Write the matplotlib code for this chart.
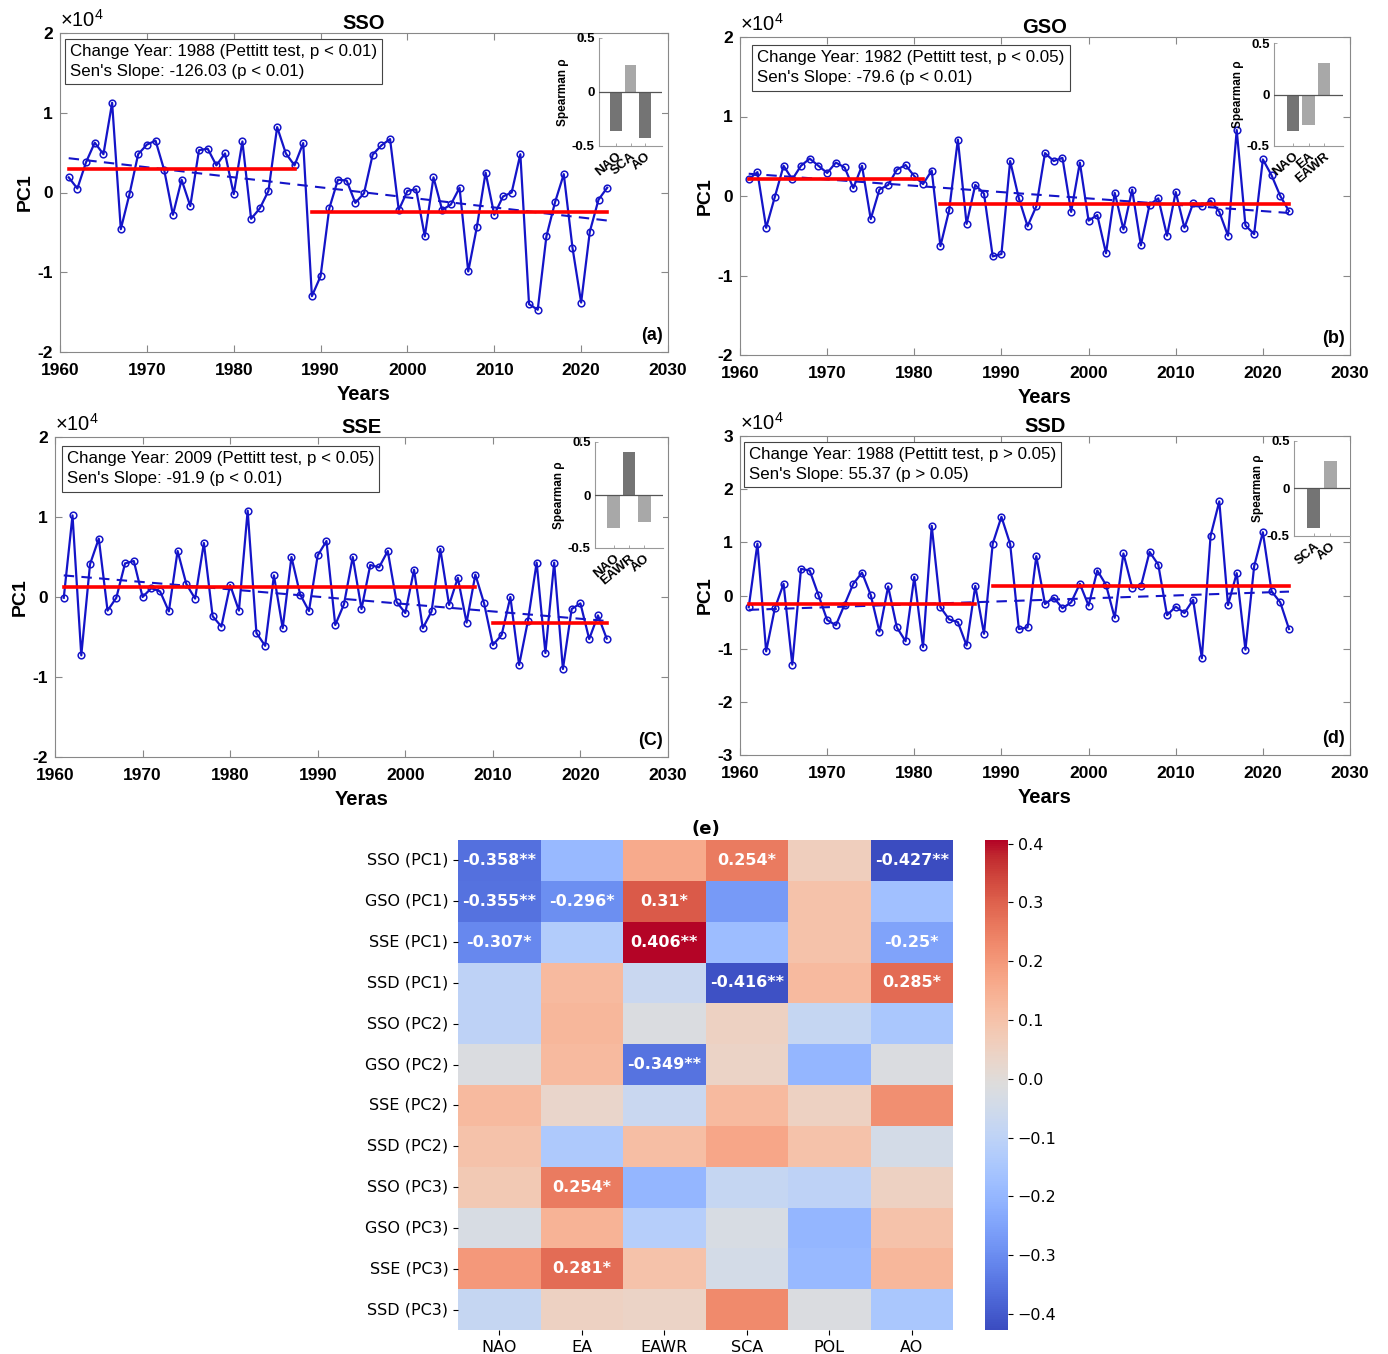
import numpy as np
import matplotlib
matplotlib.use('Agg')
import matplotlib.pyplot as plt
import seaborn as sns

plt.rcParams['font.family'] = ['Liberation Sans', 'DejaVu Sans']
plt.rcParams['mathtext.fontset'] = 'custom'
plt.rcParams['mathtext.rm'] = 'Liberation Sans'

# ---- data (PC1 series in units of 1e4) ----
years = np.arange(1961, 2024)

sso_pc1 = [0.19, 0.05, 0.38, 0.625, 0.48, 1.125, -0.46, -0.02, 0.48, 0.60,
           0.65, 0.28, -0.28, 0.16, -0.17, 0.53, 0.55, 0.34, 0.49, -0.02,
           0.64, -0.33, -0.20, 0.02, 0.82, 0.49, 0.34, 0.62, -1.30, -1.05,
           -0.20, 0.16, 0.15, -0.13, -0.01, 0.475, 0.59, 0.67, -0.22, 0.02,
           0.04, -0.55, 0.19, -0.22, -0.15, 0.06, -0.99, -0.43, 0.25, -0.28,
           -0.05, 0.00, 0.48, -1.40, -1.47, -0.55, -0.12, 0.23, -0.69, -1.38,
           -0.49, -0.09, 0.06]
gso_pc1 = [0.21, 0.30, -0.40, -0.01, 0.38, 0.21, 0.38, 0.47, 0.38, 0.29,
           0.42, 0.36, 0.10, 0.38, -0.29, 0.08, 0.14, 0.33, 0.39, 0.25,
           0.15, 0.32, -0.63, -0.18, 0.71, -0.35, 0.14, 0.03, -0.76, -0.73,
           0.44, -0.03, -0.38, -0.13, 0.54, 0.44, 0.48, -0.20, 0.42, -0.31,
           -0.24, -0.72, 0.04, -0.42, 0.08, -0.62, -0.11, -0.03, -0.50, 0.05,
           -0.40, -0.09, -0.13, -0.06, -0.20, -0.50, 0.83, -0.37, -0.48, 0.46,
           0.26, 0.00, -0.19]
sse_pc1 = [-0.01, 1.02, -0.73, 0.41, 0.73, -0.17, -0.01, 0.42, 0.45, 0.00,
           0.11, 0.07, -0.18, 0.575, 0.16, -0.02, 0.675, -0.24, -0.37, 0.15,
           -0.17, 1.08, -0.45, -0.61, 0.27, -0.39, 0.50, 0.03, -0.175, 0.52,
           0.70, -0.35, -0.09, 0.50, -0.15, 0.40, 0.37, 0.575, -0.06, -0.20,
           0.34, -0.39, -0.18, 0.60, -0.10, 0.24, -0.32, 0.28, -0.08, -0.60,
           -0.475, 0.00, -0.85, -0.30, 0.43, -0.70, 0.43, -0.90, -0.15, -0.08,
           -0.525, -0.23, -0.52]
ssd_pc1 = [-0.22, 0.975, -1.05, -0.24, 0.22, -1.30, 0.50, 0.47, 0.01, -0.46,
           -0.56, -0.17, 0.22, 0.43, 0.01, -0.68, 0.17, -0.60, -0.86, 0.35,
           -0.97, 1.31, -0.22, -0.45, -0.50, -0.94, 0.18, -0.72, 0.975, 1.48,
           0.97, -0.63, -0.60, 0.74, -0.16, -0.04, -0.24, -0.13, 0.22, -0.19,
           0.47, 0.20, -0.42, 0.79, 0.15, 0.17, 0.82, 0.58, -0.37, -0.21,
           -0.33, -0.08, -1.18, 1.12, 1.77, -0.18, 0.42, -1.02, 0.55, 1.19,
           0.08, -0.13, -0.63]

# change year, segment means, Sen's slope, trend start value (x1e4)
change_years = [1988, 1982, 2009, 1988]
seg_means = [[0.29, -0.24], [0.21, -0.10], [0.12, -0.32], [-0.16, 0.17]]
sens_slopes = [-126.03, -79.6, -91.9, 55.37]
trend_start = [0.43, 0.28, 0.27, -0.27]
p_pettitt = ['p < 0.01', 'p < 0.05', 'p < 0.05', 'p > 0.05']
p_sens = ['p < 0.01', 'p < 0.01', 'p < 0.01', 'p > 0.05']

# correlation heatmap
indices = ['NAO', 'EA', 'EAWR', 'SCA', 'POL', 'AO']
rows = ['SSO (PC1)', 'GSO (PC1)', 'SSE (PC1)', 'SSD (PC1)',
        'SSO (PC2)', 'GSO (PC2)', 'SSE (PC2)', 'SSD (PC2)',
        'SSO (PC3)', 'GSO (PC3)', 'SSE (PC3)', 'SSD (PC3)']
corr = [[-0.358, -0.19, 0.16, 0.254, 0.06, -0.427],
        [-0.355, -0.296, 0.31, -0.27, 0.10, -0.17],
        [-0.307, -0.13, 0.406, -0.18, 0.10, -0.25],
        [-0.10, 0.12, -0.07, -0.416, 0.12, 0.285],
        [-0.10, 0.13, -0.02, 0.05, -0.08, -0.15],
        [-0.02, 0.12, -0.349, 0.04, -0.20, -0.02],
        [0.12, 0.03, -0.07, 0.12, 0.05, 0.22],
        [0.10, -0.14, 0.11, 0.17, 0.10, -0.04],
        [0.08, 0.254, -0.20, -0.08, -0.10, 0.05],
        [-0.03, 0.14, -0.12, -0.03, -0.20, 0.10],
        [0.20, 0.281, 0.10, -0.04, -0.19, 0.13],
        [-0.08, 0.05, 0.04, 0.23, -0.02, -0.15]]
stars = [['**', '', '', '*', '', '**'],
         ['**', '*', '*', '', '', ''],
         ['*', '', '**', '', '', '*'],
         ['', '', '', '**', '', '*'],
         [''] * 6,
         ['', '', '**', '', '', ''],
         [''] * 6,
         [''] * 6,
         ['', '*', '', '', '', ''],
         [''] * 6,
         ['', '*', '', '', '', ''],
         [''] * 6]

W, H = 1388, 1354
fig = plt.figure(figsize=(W / 100, H / 100), dpi=100)
BLUE = '#1414c8'
GRID = '#888888'


def px_axes(l, t, r, b):
    return fig.add_axes([l / W, 1 - b / H, (r - l) / W, (b - t) / H])


def draw_panel(i, name, pc, box, inset_box, txt_xy, ylim, letter, xlabel):
    ax = px_axes(*box)
    cp = change_years[i]
    ax.plot(years, pc, '-o', color=BLUE, lw=1.6, ms=4.8, mfc='none', mew=1.1, zorder=2)
    ax.plot([years[0], cp - 1], [seg_means[i][0]] * 2, color='red', lw=2.6, zorder=3)
    ax.plot([cp + 1, years[-1]], [seg_means[i][1]] * 2, color='red', lw=2.6, zorder=3)
    ends = np.array([years[0], years[-1]])
    ax.plot(ends, trend_start[i] + sens_slopes[i] / 1e4 * (ends - years[0]), '--',
            color=BLUE, lw=1.5, dashes=(5, 3.5), zorder=2)

    ax.set_xlim(1960, 2030)
    ax.set_ylim(*ylim)
    ax.set_xticks(range(1960, 2031, 10))
    yt = list(range(ylim[0], ylim[1] + 1))
    ax.set_yticks(yt)
    ax.set_yticklabels([str(v) for v in yt])
    ax.tick_params(direction='in', top=True, right=True, length=5, width=0.8,
                   color=GRID, labelsize=12.5)
    ax.tick_params(axis='x', pad=8)
    ax.tick_params(axis='y', pad=5)
    for lbl in ax.get_xticklabels() + ax.get_yticklabels():
        lbl.set_fontweight('bold')
    for s in ax.spines.values():
        s.set_color(GRID)
        s.set_linewidth(0.8)
    ax.set_title(name, fontweight='bold', fontsize=14.5, pad=3)
    ax.set_xlabel(xlabel, fontweight='bold', fontsize=14.5, labelpad=5)
    ax.set_ylabel('PC1', fontweight='bold', fontsize=14, labelpad=3)
    ax.text(0.0, 1.006, '×10$^{4}$', transform=ax.transAxes, ha='left', va='bottom',
            fontsize=14.5)
    ax.text(0.992, 0.025, letter, transform=ax.transAxes, ha='right', va='bottom',
            fontweight='bold', fontsize=13)
    ax.text(txt_xy[0], txt_xy[1],
            f"Change Year: {cp} (Pettitt test, {p_pettitt[i]})\n"
            f"Sen's Slope: {sens_slopes[i]} ({p_sens[i]})",
            transform=ax.transAxes, ha='left', va='top', fontsize=12.2, linespacing=1.45,
            bbox=dict(boxstyle='square,pad=0.3', fc='white', ec='#444444', lw=0.8))

    # inset: significant Spearman correlations with PC1
    ins = px_axes(*inset_box)
    sel = [j for j in range(len(indices)) if stars[i][j]]
    xs = np.arange(1, len(sel) + 1)
    vals = [corr[i][j] for j in sel]
    cols = ['#747474' if stars[i][j] == '**' else '#a8a8a8' for j in sel]
    ins.bar(xs, vals, width=0.8, color=cols, zorder=2)
    ins.axhline(0, color='#555555', lw=0.9, zorder=3)
    ins.set_xlim(-0.2, len(sel) + 1.2)
    ins.set_ylim(-0.5, 0.5)
    ins.set_yticks([-0.5, 0, 0.5])
    ins.set_yticklabels(['-0.5', '0', '0.5'], fontweight='bold', fontsize=9.5)
    ins.set_xticks(xs)
    ins.set_xticklabels([indices[j] for j in sel], rotation=40, ha='right', va='top',
                        rotation_mode='anchor', fontweight='bold', fontsize=9.5)
    ins.tick_params(direction='in', length=2, width=0.6, color='#999999', pad=3)
    ins.spines['top'].set_visible(False)
    ins.spines['right'].set_visible(False)
    ins.spines['left'].set_color('#999999')
    ins.spines['bottom'].set_color('#999999')
    ins.set_ylabel('Spearman ρ', fontweight='bold', fontsize=8.5, labelpad=2)


draw_panel(0, 'SSO', sso_pc1, (60, 33, 668, 352), (599, 38, 662, 146),
           (0.0165, 0.966), (-2, 2), '(a)', 'Years')
draw_panel(1, 'GSO', gso_pc1, (740, 37, 1350, 355), (1274, 43, 1343, 146),
           (0.028, 0.959), (-2, 2), '(b)', 'Years')
draw_panel(2, 'SSE', sse_pc1, (55, 437, 668, 757), (595, 442, 663, 548),
           (0.0196, 0.956), (-2, 2), '(C)', 'Yeras')
draw_panel(3, 'SSD', ssd_pc1, (740, 436, 1350, 755), (1294, 441, 1350, 536),
           (0.0148, 0.966), (-3, 3), '(d)', 'Years')

# ---- heatmap (e) ----
hax = px_axes(458, 840, 953, 1330)
cax = px_axes(985, 840, 1008, 1330)
annot = np.array([[f"{v:.3g}{s}" if s else "" for v, s in zip(rv, rs)]
                  for rv, rs in zip(corr, stars)])
sns.heatmap(np.array(corr), ax=hax, cbar_ax=cax, cmap='coolwarm', annot=annot, fmt='',
            annot_kws=dict(color='white', fontweight='bold', fontsize=11.5,
                           family='DejaVu Sans'),
            xticklabels=indices, yticklabels=rows)
hax.tick_params(axis='both', labelrotation=0, labelsize=11.5, labelfontfamily='DejaVu Sans')
cax.tick_params(labelsize=11.5, labelfontfamily='DejaVu Sans')
hax.set_title('(e)', fontweight='bold', fontsize=13, pad=4, family='DejaVu Sans')

fig.savefig('out.png', dpi=100, facecolor='white')
